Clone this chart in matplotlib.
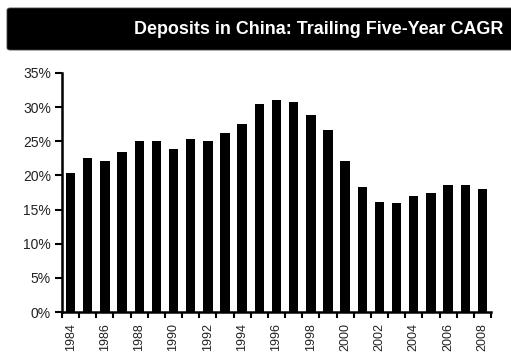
import matplotlib
matplotlib.use("Agg")
import matplotlib.pyplot as plt
from matplotlib.patches import FancyBboxPatch
from matplotlib.ticker import FuncFormatter
import numpy as np

plt.rcParams['font.family'] = ['Liberation Sans', 'DejaVu Sans']

title = "Deposits in China: Trailing Five-Year CAGR"
years = list(range(1984, 2009))
cagr = [20.3, 22.5, 22.1, 23.4, 25.0, 25.1, 23.9, 25.4, 25.1, 26.2, 27.6,
        30.5, 31.1, 30.7, 28.8, 26.6, 22.1, 18.3, 16.1, 16.0, 17.0, 17.4,
        18.6, 18.6, 18.0]
y_ticks = [0, 5, 10, 15, 20, 25, 30, 35]

fig = plt.figure(figsize=(5.11, 3.55), dpi=100)
ax = fig.add_axes([62/511, 1 - 312/355, (491 - 62)/511, (312 - 73)/355])

x = np.arange(len(years))
ax.bar(x, cagr, width=0.55, color='black', zorder=3)

ax.set_xlim(-0.5, len(years) - 0.5)
ax.set_ylim(0, 35)
ax.set_yticks(y_ticks)
ax.yaxis.set_major_formatter(FuncFormatter(lambda v, p: f"{int(v)}%"))

# x ticks at category boundaries, labels at even-year bar centres
ax.set_xticks(np.arange(-0.5, len(years)), minor=False)
ax.set_xticklabels([])
ax.set_xticks([i for i, y in enumerate(years) if y % 2 == 0], minor=True)
ax.set_xticklabels([str(y) for y in years if y % 2 == 0], minor=True,
                   rotation=90, fontsize=9, va='top')
ax.tick_params(axis='x', which='minor', length=0, pad=8, labelcolor='#222222')
ax.tick_params(axis='x', which='major', length=4, width=1.5, direction='out')
ax.tick_params(axis='y', length=5, width=1.5, labelsize=10, pad=3,
               labelcolor='#222222')

for s in ['top', 'right']:
    ax.spines[s].set_visible(False)
for s in ['left', 'bottom']:
    ax.spines[s].set_linewidth(1.8)

# Title bar
bar = FancyBboxPatch((7/511, 1 - 50/355), 520/511, 42/355,
                     boxstyle="round,pad=0,rounding_size=0.006",
                     transform=fig.transFigure, facecolor='black',
                     edgecolor='#444444', linewidth=0.6, clip_on=False)
fig.patches.append(bar)
fig.text(503/511, 1 - 30/355, title, color='white', fontsize=12.9,
         fontweight='bold', ha='right', va='center')

fig.savefig("out.png", dpi=100)
